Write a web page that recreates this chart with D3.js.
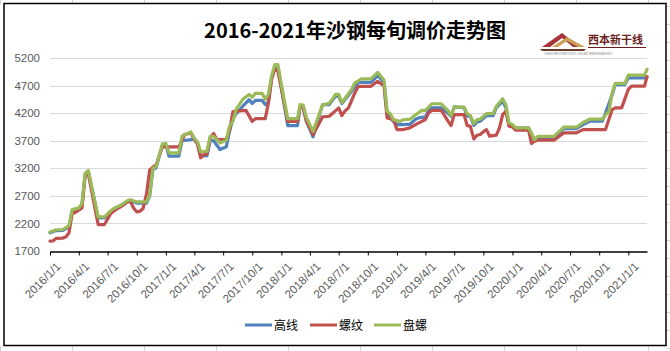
<!DOCTYPE html>
<html>
<head>
<meta charset="utf-8">
<script src="https://cdn.jsdelivr.net/npm/d3@7"></script>
<style>
  body { margin: 0; background: #fff; }
  svg { display: block; }
</style>
</head>
<body>
<div id="chart"></div>
<script>
const width = 670
const height = 351
const margin = { top: 58, bottom: 100, left: 50, right: 23 }

const title = "2016-2021年沙钢每旬调价走势图"
const seriesNames = ["高线", "螺纹", "盘螺"]
const colors = ["#4F81BD", "#C0504D", "#9BBB59"]
const yTicks = [1700, 2200, 2700, 3200, 3700, 4200, 4700, 5200]
const xTickLabels = ["2016/1/1", "2016/4/1", "2016/7/1", "2016/10/1", "2017/1/1", "2017/4/1", "2017/7/1",
    "2017/10/1", "2018/1/1", "2018/4/1", "2018/7/1", "2018/10/1", "2019/1/1", "2019/4/1", "2019/7/1",
    "2019/10/1", "2020/1/1", "2020/4/1", "2020/7/1", "2020/10/1", "2021/1/1"]

// 高线 (turning points of the 10-day price series)
const gaoxian = [
    ["2016/1/1", 2030], ["2016/1/21", 2070], ["2016/2/11", 2075], ["2016/2/21", 2110], ["2016/3/1", 2140],
    ["2016/3/11", 2430], ["2016/4/1", 2460], ["2016/4/11", 2540], ["2016/4/21", 3090], ["2016/5/1", 3140],
    ["2016/6/1", 2300], ["2016/6/21", 2300], ["2016/7/11", 2410], ["2016/7/21", 2450], ["2016/8/11", 2510],
    ["2016/9/1", 2590], ["2016/9/11", 2610], ["2016/10/1", 2570], ["2016/11/1", 2570], ["2016/11/11", 2700],
    ["2016/11/21", 3180], ["2016/12/1", 3210], ["2016/12/21", 3620], ["2017/1/1", 3630], ["2017/1/11", 3420],
    ["2017/2/11", 3420], ["2017/2/21", 3700], ["2017/3/21", 3720], ["2017/4/1", 3740], ["2017/4/11", 3660],
    ["2017/4/21", 3420], ["2017/5/11", 3430], ["2017/5/21", 3700], ["2017/6/1", 3700], ["2017/6/21", 3540],
    ["2017/7/11", 3590], ["2017/7/21", 3870], ["2017/8/1", 4100], ["2017/8/11", 4190], ["2017/9/1", 4325],
    ["2017/9/21", 4446], ["2017/10/1", 4373], ["2017/10/11", 4433], ["2017/11/1", 4433], ["2017/11/11", 4355],
    ["2017/11/21", 4400], ["2017/12/1", 4838], ["2017/12/11", 5019], ["2017/12/21", 5019], ["2018/1/1", 4660],
    ["2018/1/21", 3975], ["2018/2/21", 3975], ["2018/3/1", 4325], ["2018/3/11", 4295], ["2018/3/21", 4050],
    ["2018/4/11", 3770], ["2018/5/11", 4355], ["2018/6/1", 4355], ["2018/6/21", 4506], ["2018/7/1", 4506],
    ["2018/7/11", 4373], ["2018/8/11", 4596], ["2018/9/1", 4759], ["2018/10/11", 4759], ["2018/11/1", 4880],
    ["2018/11/21", 4760], ["2018/12/1", 4204], ["2018/12/11", 4114], ["2018/12/21", 4050], ["2019/1/1", 3993],
    ["2019/1/21", 3993], ["2019/2/11", 4000], ["2019/3/1", 4090], ["2019/3/11", 4114], ["2019/4/1", 4132],
    ["2019/4/11", 4250], ["2019/4/21", 4295], ["2019/5/21", 4295], ["2019/6/11", 4200], ["2019/6/21", 4144],
    ["2019/7/1", 4313], ["2019/8/1", 4300], ["2019/8/11", 4150], ["2019/8/21", 4140], ["2019/9/1", 3975],
    ["2019/9/11", 4040], ["2019/9/21", 4053], ["2019/10/11", 4156], ["2019/11/1", 4156], ["2019/11/11", 4300],
    ["2019/12/1", 4416], ["2019/12/11", 4300], ["2019/12/21", 3993], ["2020/1/11", 3933], ["2020/2/21", 3933],
    ["2020/3/11", 3700], ["2020/3/21", 3745], ["2020/5/11", 3745], ["2020/6/11", 3920], ["2020/7/21", 3920],
    ["2020/8/11", 3993], ["2020/9/1", 4053], ["2020/10/11", 4053], ["2020/10/21", 4200], ["2020/11/11", 4536],
    ["2020/11/21", 4717], ["2020/12/21", 4717], ["2021/1/1", 4838], ["2021/2/21", 4838], ["2021/3/1", 4850]
]

// 螺纹
const luowen = [
    ["2016/1/1", 1880], ["2016/1/11", 1885], ["2016/1/21", 1930], ["2016/2/11", 1935], ["2016/2/21", 1960],
    ["2016/3/1", 2030], ["2016/3/11", 2380], ["2016/3/21", 2400], ["2016/4/1", 2440], ["2016/4/11", 2480],
    ["2016/4/21", 3060], ["2016/5/1", 3100], ["2016/6/1", 2180], ["2016/6/21", 2180], ["2016/7/11", 2380],
    ["2016/8/1", 2470], ["2016/8/11", 2500], ["2016/9/1", 2590], ["2016/9/11", 2600], ["2016/9/21", 2480],
    ["2016/10/1", 2410], ["2016/10/11", 2420], ["2016/10/21", 2470], ["2016/11/1", 2740], ["2016/11/11", 3170],
    ["2016/11/21", 3220], ["2016/12/1", 3260], ["2016/12/21", 3590], ["2017/2/11", 3590], ["2017/2/21", 3700],
    ["2017/3/1", 3810], ["2017/3/21", 3840], ["2017/4/1", 3720], ["2017/4/11", 3640], ["2017/4/21", 3390],
    ["2017/5/1", 3450], ["2017/5/11", 3460], ["2017/5/21", 3750], ["2017/6/1", 3830], ["2017/6/11", 3720],
    ["2017/7/11", 3720], ["2017/7/21", 3880], ["2017/8/1", 4230], ["2017/9/11", 4250], ["2017/10/1", 4050],
    ["2017/10/11", 4100], ["2017/11/11", 4100], ["2017/11/21", 4385], ["2017/12/1", 4808], ["2017/12/11", 5000],
    ["2017/12/21", 4960], ["2018/1/21", 4050], ["2018/2/21", 4050], ["2018/3/1", 4325], ["2018/3/11", 4295],
    ["2018/3/21", 4060], ["2018/4/11", 3812], ["2018/5/1", 4023], ["2018/5/11", 4132], ["2018/6/1", 4144],
    ["2018/6/11", 4192], ["2018/7/1", 4295], ["2018/7/11", 4156], ["2018/7/21", 4240], ["2018/8/1", 4295],
    ["2018/8/21", 4566], ["2018/9/1", 4687], ["2018/10/11", 4687], ["2018/11/1", 4777], ["2018/11/21", 4699],
    ["2018/12/1", 4114], ["2018/12/11", 4100], ["2018/12/21", 4083], ["2019/1/1", 3902], ["2019/1/21", 3902],
    ["2019/2/11", 3933], ["2019/3/1", 3993], ["2019/3/11", 4023], ["2019/4/1", 4083], ["2019/4/11", 4200],
    ["2019/4/21", 4252], ["2019/5/21", 4252], ["2019/6/11", 4060], ["2019/6/21", 3975], ["2019/7/1", 4174],
    ["2019/8/1", 4174], ["2019/8/11", 3975], ["2019/8/21", 3960], ["2019/9/1", 3733], ["2019/9/11", 3800],
    ["2019/9/21", 3812], ["2019/10/1", 3860], ["2019/10/11", 3902], ["2019/10/21", 3782], ["2019/11/11", 3800],
    ["2019/11/21", 3933], ["2019/12/1", 4174], ["2019/12/11", 4234], ["2019/12/21", 3963], ["2020/1/1", 3950],
    ["2020/1/11", 3890], ["2020/2/21", 3890], ["2020/3/1", 3649], ["2020/3/11", 3691], ["2020/3/21", 3709],
    ["2020/5/11", 3709], ["2020/6/11", 3842], ["2020/7/21", 3842], ["2020/8/11", 3902], ["2020/10/21", 3902],
    ["2020/11/11", 4265], ["2020/11/21", 4295], ["2020/12/11", 4295], ["2021/1/1", 4632], ["2021/1/11", 4690],
    ["2021/2/21", 4690], ["2021/3/1", 4860]
]

// 盘螺
const panluo = [
    ["2016/1/1", 2045], ["2016/1/21", 2085], ["2016/2/11", 2090], ["2016/2/21", 2130], ["2016/3/1", 2160],
    ["2016/3/11", 2450], ["2016/4/1", 2480], ["2016/4/11", 2560], ["2016/4/21", 3110], ["2016/5/1", 3160],
    ["2016/6/1", 2320], ["2016/6/21", 2320], ["2016/7/11", 2430], ["2016/7/21", 2470], ["2016/8/11", 2530],
    ["2016/9/1", 2610], ["2016/9/11", 2630], ["2016/10/1", 2590], ["2016/11/1", 2590], ["2016/11/11", 2720],
    ["2016/11/21", 3200], ["2016/12/1", 3230], ["2016/12/21", 3640], ["2017/1/1", 3650], ["2017/1/11", 3480],
    ["2017/2/11", 3480], ["2017/2/21", 3780], ["2017/3/21", 3860], ["2017/4/1", 3740], ["2017/4/11", 3680],
    ["2017/4/21", 3500], ["2017/5/11", 3510], ["2017/5/21", 3780], ["2017/6/1", 3780], ["2017/6/21", 3660],
    ["2017/7/11", 3710], ["2017/7/21", 3960], ["2017/8/1", 4050], ["2017/8/11", 4270], ["2017/9/1", 4450],
    ["2017/9/21", 4540], ["2017/10/1", 4490], ["2017/10/11", 4560], ["2017/11/1", 4560], ["2017/11/11", 4450],
    ["2017/11/21", 4540], ["2017/12/1", 4870], ["2017/12/11", 5080], ["2017/12/21", 5080], ["2018/1/1", 4720],
    ["2018/1/21", 4100], ["2018/2/21", 4100], ["2018/3/1", 4355], ["2018/3/11", 4345], ["2018/3/21", 4120],
    ["2018/4/11", 3870], ["2018/5/11", 4350], ["2018/6/1", 4380], ["2018/6/11", 4450], ["2018/6/21", 4540],
    ["2018/7/1", 4540], ["2018/7/11", 4385], ["2018/7/21", 4470], ["2018/8/11", 4630], ["2018/8/21", 4750],
    ["2018/9/11", 4820], ["2018/10/11", 4820], ["2018/11/1", 4940], ["2018/11/21", 4800], ["2018/12/1", 4234],
    ["2018/12/11", 4190], ["2018/12/21", 4080], ["2019/1/11", 4050], ["2019/1/21", 4080], ["2019/2/11", 4090],
    ["2019/3/1", 4170], ["2019/3/21", 4250], ["2019/4/1", 4250], ["2019/4/21", 4370], ["2019/5/21", 4370],
    ["2019/6/11", 4252], ["2019/6/21", 4156], ["2019/7/1", 4310], ["2019/8/1", 4310], ["2019/8/11", 4190],
    ["2019/8/21", 4156], ["2019/9/1", 4011], ["2019/9/11", 4083], ["2019/9/21", 4090], ["2019/10/11", 4190],
    ["2019/11/1", 4190], ["2019/11/11", 4325], ["2019/12/1", 4460], ["2019/12/11", 4355], ["2019/12/21", 4023],
    ["2020/1/1", 3993], ["2020/1/11", 3933], ["2020/2/21", 3933], ["2020/3/11", 3721], ["2020/3/21", 3780],
    ["2020/5/11", 3780], ["2020/6/11", 3945], ["2020/7/21", 3945], ["2020/8/11", 4030], ["2020/9/1", 4090],
    ["2020/10/11", 4090], ["2020/10/21", 4170], ["2020/11/1", 4230], ["2020/11/11", 4570], ["2020/11/21", 4740],
    ["2020/12/21", 4740], ["2021/1/1", 4890], ["2021/2/21", 4890], ["2021/3/1", 4995]
]

const parse = d3.timeParse("%Y/%m/%d")
const allSeries = [gaoxian, luowen, panluo].map(s => s.map(([d, v]) => ({ date: parse(d), value: v })))

const svg = d3.select("#chart").append("svg")
    .attr("width", width)
    .attr("height", height)
    .style("font-family", "'Noto Sans CJK SC', 'Liberation Sans', sans-serif")

// spreadsheet cells showing around the chart
let sheet = svg.append("g").attr("stroke", "#d4d4d4").attr("stroke-width", 1)
for (let gx = 0.5; gx < width; gx += 72) {
    sheet.append("line").attr("x1", gx).attr("x2", gx).attr("y1", 0).attr("y2", 4)
    sheet.append("line").attr("x1", gx).attr("x2", gx).attr("y1", 346).attr("y2", height)
}
for (let gy = 6.5; gy < height; gy += 18) {
    sheet.append("line").attr("x1", 667).attr("x2", width).attr("y1", gy).attr("y2", gy)
}

svg.append("rect")
    .attr("x", 4).attr("y", 3.5)
    .attr("width", 662).attr("height", 342)
    .attr("fill", "#fff")
    .attr("stroke", "#000")
    .attr("stroke-width", 1.5)

let x = d3.scaleTime()
    .domain([parse("2016/1/1"), parse("2021/3/1")])
    .range([margin.left, width - margin.right])
let y = d3.scaleLinear()
    .domain([1700, 5200])
    .range([height - margin.bottom, margin.top])

// gridlines
svg.append("g").selectAll("line").data(yTicks.slice(1)).join("line")
    .attr("x1", margin.left).attr("x2", width - margin.right)
    .attr("y1", d => Math.round(y(d)) + 0.5).attr("y2", d => Math.round(y(d)) + 0.5)
    .attr("stroke", "#d9d9d9")

let yAxis = d3.axisLeft(y).tickValues(yTicks).tickFormat(d3.format("d")).tickSize(0).tickPadding(0)
let yAxisGroup = svg.append("g").attr("transform", `translate(${margin.left - 10}, 0)`).call(yAxis)
yAxisGroup.select(".domain").remove()
yAxisGroup.selectAll("text")
    .attr("fill", "#595959")
    .style("font-family", "'Liberation Sans', sans-serif")
    .style("font-size", "11.5px")

let xAxis = d3.axisBottom(x)
    .tickValues(xTickLabels.map(parse))
    .tickFormat(d3.timeFormat("%Y/%-m/%-d"))
    .tickSize(4)
    .tickSizeOuter(0)
let xAxisGroup = svg.append("g")
    .attr("transform", `translate(0, ${Math.round(height - margin.bottom) + 0.5})`)
    .call(xAxis)
xAxisGroup.select(".domain").attr("stroke", "#000").attr("stroke-width", 1.3)
xAxisGroup.selectAll(".tick line").attr("stroke", "#000")
xAxisGroup.selectAll("text")
    .attr("fill", "#595959")
    .style("font-family", "'Liberation Sans', sans-serif")
    .style("font-size", "11.5px")
    .attr("text-anchor", "end")
    .attr("dy", "0.35em")
    .attr("transform", "translate(3, 8) rotate(-45)")

// lines
let line = d3.line().x(d => x(d.date)).y(d => y(d.value))
svg.append("g").selectAll("path").data(allSeries).join("path")
    .attr("d", line)
    .attr("fill", "none")
    .attr("stroke", (d, i) => colors[i])
    .attr("stroke-width", 3.2)
    .attr("stroke-linejoin", "round")
    .attr("stroke-linecap", "round")

// title
svg.append("text")
    .attr("x", 355).attr("y", 38)
    .attr("text-anchor", "middle")
    .attr("font-weight", "bold")
    .attr("font-size", 20)
    .attr("fill", "#000")
    .text(title)

// logo
let logo = svg.append("g").attr("transform", "translate(540, 28)")
logo.append("path").attr("d", "M2,19 L22,5 L40,19 L33,19 L22,10 L10,19 Z").attr("fill", "#a8323a")
logo.append("path").attr("d", "M12,19 L27,9 L45,19 L38,19 L27,13 L18,19 Z").attr("fill", "#c9a25a")
logo.append("path").attr("d", "M0,21 L46,21 L44,23 L2,23 Z").attr("fill", "#6b3b2a")
logo.append("text").attr("x", 48).attr("y", 16)
    .attr("font-size", 11).attr("font-weight", "bold").attr("fill", "#6b1e1e")
    .text("西本新干线")
logo.append("line").attr("x1", 48).attr("x2", 106).attr("y1", 19.5).attr("y2", 19.5)
    .attr("stroke", "#6b1e1e").attr("stroke-width", 1)
logo.append("text").attr("x", 4).attr("y", 27)
    .attr("font-size", 3).attr("fill", "#777")
    .text("CHINA WESTERN STEEL ONLINE    WWW.96369.NET")

// legend
let legend = svg.append("g").attr("transform", "translate(245, 325)")
let legendX = [0, 65, 129]
seriesNames.forEach((name, i) => {
    let item = legend.append("g").attr("transform", `translate(${legendX[i]}, 0)`)
    item.append("line").attr("x1", 0).attr("x2", 27).attr("y1", 0).attr("y2", 0)
        .attr("stroke", colors[i]).attr("stroke-width", 3)
    item.append("text").attr("x", 29).attr("y", 4.5)
        .attr("font-size", 12).attr("fill", "#000")
        .text(name)
})
</script>
</body>
</html>
